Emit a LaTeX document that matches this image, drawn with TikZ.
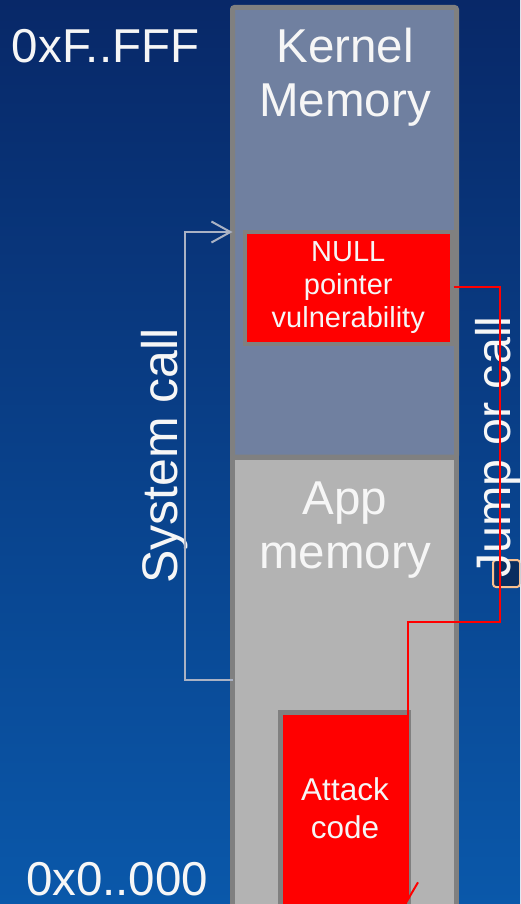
\documentclass[tikz,border=0pt]{standalone}
\usepackage{fontspec}
\setmainfont{Liberation Sans}
\usetikzlibrary{arrows.meta}

\definecolor{bgtop}{RGB}{8,40,104}
\definecolor{bgbot}{RGB}{10,88,170}
\definecolor{kernfill}{RGB}{112,128,160}
\definecolor{appfill}{RGB}{179,179,179}
\definecolor{rim}{RGB}{128,128,128}
\definecolor{hot}{RGB}{255,0,0}
\definecolor{sysline}{RGB}{170,178,196}
\definecolor{peach}{RGB}{250,192,143}
\definecolor{chipfill}{RGB}{10,45,95}
\definecolor{ink}{RGB}{246,246,246}

\begin{document}
\begin{tikzpicture}[x=1pt,y=-1pt,
  region/.style={draw=rim, line width=5pt, outer sep=0pt, inner sep=0pt,
                 anchor=north west},
  redbox/.style={draw=rim, fill=hot, outer sep=0pt, inner sep=0pt,
                 anchor=north west, text=ink, align=center},
  bigtext/.style={text=ink, inner sep=0pt, outer sep=0pt,
                  font=\fontsize{47.5}{54}\selectfont},
  codetext/.style={text=ink, inner sep=0pt, outer sep=0pt, anchor=base,
                   font=\fontsize{31.5}{36}\selectfont},
  sidetext/.style={text=ink, inner sep=0pt, outer sep=0pt, rotate=90,
                   anchor=base, font=\fontsize{50}{56}\selectfont},
  syscallline/.style={draw=sysline, line width=2pt,
                      -{Straight Barb[length=19pt, width=21pt]}},
  jumpline/.style={draw=hot, line width=2pt,
                   -{Straight Barb[harpoon, length=17pt, width=20pt]}}
]
\useasboundingbox (0,0) rectangle (520,904);
\clip (0,0) rectangle (520,904);

% backdrop
\shade[top color=bgtop, bottom color=bgbot] (0,0) rectangle (520,904);

% memory regions
\node[region, fill=kernfill, rounded corners=2pt,
      minimum width=224pt, minimum height=449.5pt] (kernel) at (232.5,7.5) {};
\node[region, fill=appfill,
      minimum width=224pt, minimum height=458pt] (app) at (232.5,457) {};

% vulnerable code and injected payload
\node[redbox, line width=4pt, minimum width=206.5pt, minimum height=112pt,
      font=\fontsize{29}{33}\selectfont] (null) at (245,232)
      {NULL\\pointer\\vulnerability};
\node[redbox, line width=4.5pt, minimum width=128.5pt, minimum height=202.5pt]
      (attack) at (280.5,712.5) {};

% small marker beside the jump label
\draw[peach, line width=2pt, fill=chipfill, rounded corners=3pt]
      (493,560) rectangle (520,587);

% labels
\node[bigtext, anchor=base] (kerneltop) at (345,63) {Kernel};
\node[bigtext, anchor=base] (kernelbot) at (345,117) {Memory};
\node[bigtext, anchor=base] (apptop) at (345,514) {App};
\node[bigtext, anchor=base] (appbot) at (345,568) {memory};
\node[codetext] (attacktop) at (345,800) {Attack};
\node[codetext] (attackbot) at (345,838) {code};
\node[bigtext, anchor=base west] (hiaddr) at (12,63) {0xF..FFF};
\node[bigtext, anchor=base west] (loaddr) at (26,895) {0x0..000};
\node[sidetext] (syslabel) at (177,456) {System call};
\node[sidetext, font=\fontsize{48.5}{56}\selectfont] (jumplabel) at (510,447)
      {Jump or call};

% control transfers
\coordinate (sysfrom) at (app.west |- 0,680);
\coordinate (sysbend) at (185,680);
\coordinate (systo) at (kernel.west |- 0,232);
\draw[syscallline] (sysfrom) -- (sysbend) |- (systo);

\coordinate (jumpfrom) at ([xshift=2pt]null.east |- 0,287);
\coordinate (jumpbend) at (500,622);
\coordinate (jumpto) at (408,903);
\draw[jumpline] (jumpfrom) -| (jumpbend) -| (jumpto);
\end{tikzpicture}
\end{document}
